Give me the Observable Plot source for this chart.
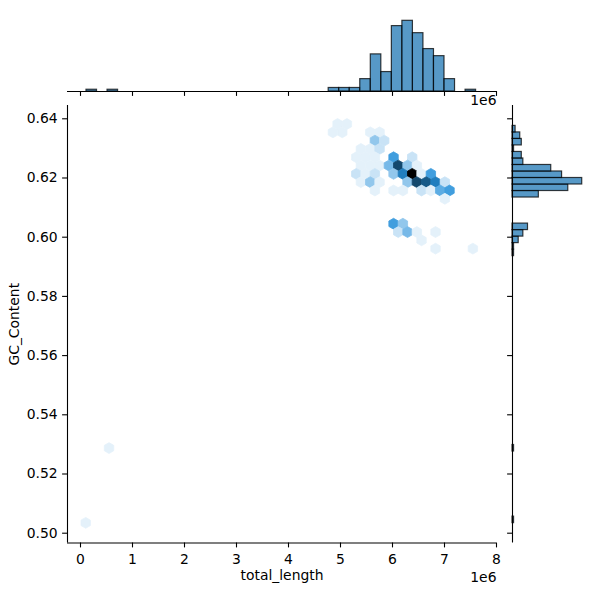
<!DOCTYPE html>
<html><head><meta charset="utf-8">
<script src="https://cdn.jsdelivr.net/npm/d3@7"></script>
<script src="https://cdn.jsdelivr.net/npm/@observablehq/plot@0.6"></script>
<style>
body{margin:0;background:#fff;}
#chart{position:relative;width:600px;height:600px;font-family:"DejaVu Sans",sans-serif;}
#chart svg{position:absolute;left:0;top:0;overflow:visible;}
</style></head><body><div id="chart"></div>
<script>
// ---- hexbin cells (bin centre total_length, bin centre GC_Content, count) ----
const hexLength = [100000, 548500,
  4943800, 5123200,
  4854100, 5033500, 5571700, 5751100,
  5661400, 5840800,
  5392300, 5571700, 5751100,
  5302600, 5482000, 5661400, 6020200, 6379000,
  5392300, 5571700, 5751100, 5930500, 6109900, 6289300, 6468700,
  5302600, 5482000, 5661400, 6020200, 6199600, 6379000, 6558400, 6737800,
  5392300, 5571700, 5751100, 6289300, 6468700, 6648100, 6827500, 7006900,
  5661400, 6020200, 6199600, 6558400, 6737800, 6917200, 7096600,
  7006900,
  6020200, 6199600,
  6109900, 6289300, 6468700, 6827500,
  6558400,
  6827500, 7545100];
const hexGC = [0.5035, 0.52876,
  0.63824, 0.63824,
  0.63543, 0.63543, 0.63543, 0.63543,
  0.63262, 0.63262,
  0.62982, 0.62982, 0.62982,
  0.62701, 0.62701, 0.62701, 0.62701, 0.62701,
  0.6242, 0.6242, 0.6242, 0.6242, 0.6242, 0.6242, 0.6242,
  0.62139, 0.62139, 0.62139, 0.62139, 0.62139, 0.62139, 0.62139, 0.62139,
  0.61859, 0.61859, 0.61859, 0.61859, 0.61859, 0.61859, 0.61859, 0.61859,
  0.61578, 0.61578, 0.61578, 0.61578, 0.61578, 0.61578, 0.61578,
  0.61297,
  0.60455, 0.60455,
  0.60174, 0.60174, 0.60174, 0.60174,
  0.59894,
  0.59613, 0.59613];
const hexCount = [1, 1,
  1, 1,
  1, 1, 1, 1,
  4, 2,
  1, 1, 2,
  1, 1, 1, 7, 2,
  1, 1, 1, 5, 12, 4, 1,
  2, 1, 2, 4, 9, 16, 1, 7,
  1, 4, 1, 4, 12, 11, 9, 2,
  1, 1, 1, 2, 1, 6, 7,
  1,
  7, 4,
  2, 5, 1, 1,
  1,
  1, 1];

// ---- marginal histogram of total_length (non-empty bins) ----
const lengthBinStart = [115000, 520000, 4772500, 4975000, 5177500, 5380000, 5582500, 5785000,
  5987500, 6190000, 6392500, 6595000, 6797500, 7000000, 7405000];
const lengthBinCount = [1, 1, 2, 2, 2, 7, 21, 11, 37, 40, 33, 24, 20, 7, 1];
const lengthBinWidth = 202500;

// ---- marginal histogram of GC_Content (non-empty bins) ----
const gcBinStart = [0.5034, 0.5276, 0.5936, 0.5958, 0.5980, 0.6002, 0.6024, 0.6134, 0.6156,
  0.6178, 0.6200, 0.6222, 0.6244, 0.6266, 0.6288, 0.6310, 0.6332, 0.6354];
const gcBinCount = [1, 1, 1, 1, 4, 7, 10, 17, 36, 45, 32, 25, 7, 6, 1, 6, 5, 2];
const gcBinWidth = 0.0022;

// ---- ticks ----
const xTicks = [0, 1e6, 2e6, 3e6, 4e6, 5e6, 6e6, 7e6, 8e6];
const yTicks = [0.50, 0.52, 0.54, 0.56, 0.58, 0.60, 0.62, 0.64];
const xLabel = "total_length", yLabel = "GC_Content", offsetText = "1e6";

// ---- layout ----
const W = 600, H = 600;
const L = 67, R = 496, T = 105, B = 542.5;
const topMargTop = 15.7, topMargBottom = 91;
const rightMargLeft = 512, rightMargRight = 587.3;
const xDomain = [-250000, 8000000];
const yDomain = [0.49669, 0.64449];
const FS = 13.9;
const base = {fontFamily: "DejaVu Sans, sans-serif", fontSize: FS + "px", color: "black", background: "transparent", overflow: "visible"};
const C0 = "#1f77b4";

const hexes = hexLength.map((x, i) => ({x, y: hexGC[i], n: hexCount[i]}));
const lenBins = lengthBinStart.map((s, i) => ({x1: s, x2: s + lengthBinWidth, n: lengthBinCount[i]}));
const gcBins = gcBinStart.map((s, i) => ({y1: s, y2: s + gcBinWidth, n: gcBinCount[i]}));
const maxHex = d3.max(hexCount);

const main = Plot.plot({
  width: W, height: H,
  marginLeft: L, marginRight: W - R, marginTop: T, marginBottom: H - B,
  style: base,
  x: {domain: xDomain, axis: null},
  y: {domain: yDomain, axis: null},
  color: {type: "linear", domain: [0, maxHex], interpolate: t => d3.hsl(204.6, 0.706, 1 - t).formatHex()},
  marks: [
    Plot.dot(hexes, {x: "x", y: "y", fill: "n", stroke: "n", strokeWidth: 0.8, symbol: "hexagon", r: 4.7}),
    Plot.ruleX([xDomain[0]], {stroke: "black", strokeWidth: 1.1}),
    Plot.ruleY([yDomain[0]], {stroke: "black", strokeWidth: 1.1}),
    Plot.axisX({ticks: xTicks, tickSize: 4.9, tickPadding: 6, tickFormat: d => d / 1e6, label: null, fontSize: FS, strokeWidth: 1.1}),
    Plot.axisY({ticks: yTicks, tickSize: 4.9, tickPadding: 4.9, tickFormat: d3.format(".2f"), label: null, fontSize: FS, strokeWidth: 1.1}),
    Plot.text([xLabel], {text: d => d, frameAnchor: "bottom", dy: 33, lineAnchor: "middle", textAnchor: "middle", fontSize: FS}),
    Plot.text([offsetText], {text: d => d, frameAnchor: "bottom-right", dy: 34.5, lineAnchor: "middle", textAnchor: "end", fontSize: FS}),
    Plot.text([yLabel], {text: d => d, frameAnchor: "left", dx: -53, rotate: -90, lineAnchor: "middle", textAnchor: "middle", fontSize: FS})
  ]
});

const topHist = Plot.plot({
  width: W, height: T,
  marginLeft: L, marginRight: W - R, marginTop: topMargTop, marginBottom: T - topMargBottom,
  style: base,
  x: {domain: xDomain, axis: null},
  y: {domain: [0, 1.065 * d3.max(lengthBinCount)], axis: null},
  marks: [
    Plot.rectY(lenBins, {x1: "x1", x2: "x2", y: "n", fill: C0, fillOpacity: 0.75, stroke: "black", strokeOpacity: 0.75, strokeWidth: 1.2, inset: 0}),
    Plot.ruleY([0], {stroke: "black", strokeWidth: 1.1}),
    Plot.axisX({ticks: xTicks, tickSize: 4.9, tickFormat: () => "", label: null, strokeWidth: 1.1}),
    Plot.text([offsetText], {text: d => d, frameAnchor: "bottom-right", dy: 9, lineAnchor: "middle", textAnchor: "end", fontSize: FS})
  ]
});

const rightHist = Plot.plot({
  width: W, height: H,
  marginLeft: rightMargLeft, marginRight: W - rightMargRight, marginTop: T, marginBottom: H - B,
  style: base,
  x: {domain: [0, 1.08 * d3.max(gcBinCount)], axis: null},
  y: {domain: yDomain, axis: null},
  marks: [
    Plot.rectX(gcBins, {y1: "y1", y2: "y2", x: "n", fill: C0, fillOpacity: 0.75, stroke: "black", strokeOpacity: 0.75, strokeWidth: 1.2, inset: 0}),
    Plot.ruleX([0], {stroke: "black", strokeWidth: 1.1}),
    Plot.axisY({ticks: yTicks, tickSize: 4.9, tickFormat: () => "", label: null, strokeWidth: 1.1})
  ]
});

const chart = document.getElementById("chart");
chart.append(main, topHist, rightHist);
</script></body></html>
